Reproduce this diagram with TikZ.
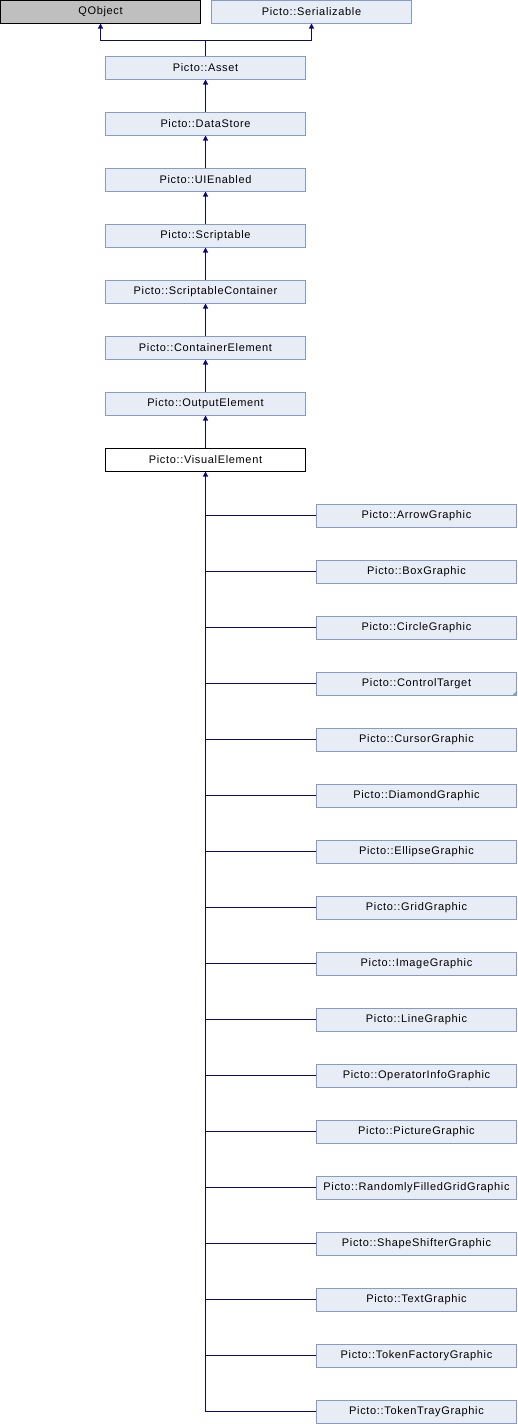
\documentclass[tikz,border=0pt]{standalone}
\usepackage{fontspec}
\setmainfont{Liberation Sans}[LetterSpace=6]
\usetikzlibrary{arrows.meta}
\definecolor{boxfill}{RGB}{232,236,245}
\definecolor{boxline}{RGB}{132,155,204}
\definecolor{edgeblue}{RGB}{10,10,128}
\definecolor{extgray}{RGB}{191,191,191}
\begin{document}
\begin{tikzpicture}[
    x=1pt, y=1pt,
    cls/.style={draw=boxline, fill=boxfill, line width=1pt, minimum width=200pt, minimum height=23pt, inner sep=0pt, font=\fontsize{11}{13}\selectfont},
    ext/.style={cls, draw=black, fill=extgray},
    cur/.style={cls, draw=black, fill=white},
    link/.style={draw=edgeblue, line width=1.1pt},
    edge/.style={link, -{Triangle[length=5pt,width=5pt]}},
  ]
    \useasboundingbox (0,0) rectangle (517,-1424);

    \node[ext] (qobj)   at (100.5,-11.5) {QObject};
    \node[cls] (serial) at (311.5,-11.5) {Picto::Serializable};

    \node[cls] (asset)     at (205.5,-67.5)  {Picto::Asset};
    \node[cls] (datastore) at (205.5,-123.5) {Picto::DataStore};
    \node[cls] (uienabled) at (205.5,-179.5) {Picto::UIEnabled};
    \node[cls] (script)    at (205.5,-235.5) {Picto::Scriptable};
    \node[cls] (scont)     at (205.5,-291.5) {Picto::ScriptableContainer};
    \node[cls] (contel)    at (205.5,-347.5) {Picto::ContainerElement};
    \node[cls] (outel)     at (205.5,-403.5) {Picto::OutputElement};
    \node[cur] (visel)     at (205.5,-459.5) {Picto::VisualElement};

    \node[cls] (arrow)   at (416.5,-515.5)  {Picto::ArrowGraphic};
    \node[cls] (box)     at (416.5,-571.5)  {Picto::BoxGraphic};
    \node[cls] (circle)  at (416.5,-627.5)  {Picto::CircleGraphic};
    \node[cls] (ctrl)    at (416.5,-683.5)  {Picto::ControlTarget};
    \node[cls] (cursor)  at (416.5,-739.5)  {Picto::CursorGraphic};
    \node[cls] (diamond) at (416.5,-795.5)  {Picto::DiamondGraphic};
    \node[cls] (ellipse) at (416.5,-851.5)  {Picto::EllipseGraphic};
    \node[cls] (grid)    at (416.5,-907.5)  {Picto::GridGraphic};
    \node[cls] (image)   at (416.5,-963.5)  {Picto::ImageGraphic};
    \node[cls] (line)    at (416.5,-1019.5) {Picto::LineGraphic};
    \node[cls] (opinfo)  at (416.5,-1075.5) {Picto::OperatorInfoGraphic};
    \node[cls] (picture) at (416.5,-1131.5) {Picto::PictureGraphic};
    \node[cls] (rfgrid)  at (416.5,-1187.5) {Picto::RandomlyFilledGridGraphic};
    \node[cls] (shape)   at (416.5,-1243.5) {Picto::ShapeShifterGraphic};
    \node[cls] (text)    at (416.5,-1299.5) {Picto::TextGraphic};
    \node[cls] (tokfac)  at (416.5,-1355.5) {Picto::TokenFactoryGraphic};
    \node[cls] (toktray) at (416.5,-1411.5) {Picto::TokenTrayGraphic};

    % corner mark: ControlTarget has more subclasses
    \fill[boxline] (ctrl.south east) -- ++(-5,0) -- ++(5,5) -- cycle;

    % multiple inheritance at the top
    \coordinate (join) at (205.5,-40.5);
    \draw[edge] (asset.north) -- (join) -| (qobj.south);
    \draw[edge] (join) -| (serial.south);

    % main chain
    \draw[edge] (datastore) -- (asset);
    \draw[edge] (uienabled) -- (datastore);
    \draw[edge] (script) -- (uienabled);
    \draw[edge] (scont) -- (script);
    \draw[edge] (contel) -- (scont);
    \draw[edge] (outel) -- (contel);
    \draw[edge] (visel) -- (outel);

    % subclasses of VisualElement, one shared trunk
    \draw[edge] (toktray.west) -| (visel.south);
    \draw[link] (arrow.west) -- (arrow.west -| visel.south);
    \draw[link] (box.west) -- (box.west -| visel.south);
    \draw[link] (circle.west) -- (circle.west -| visel.south);
    \draw[link] (ctrl.west) -- (ctrl.west -| visel.south);
    \draw[link] (cursor.west) -- (cursor.west -| visel.south);
    \draw[link] (diamond.west) -- (diamond.west -| visel.south);
    \draw[link] (ellipse.west) -- (ellipse.west -| visel.south);
    \draw[link] (grid.west) -- (grid.west -| visel.south);
    \draw[link] (image.west) -- (image.west -| visel.south);
    \draw[link] (line.west) -- (line.west -| visel.south);
    \draw[link] (opinfo.west) -- (opinfo.west -| visel.south);
    \draw[link] (picture.west) -- (picture.west -| visel.south);
    \draw[link] (rfgrid.west) -- (rfgrid.west -| visel.south);
    \draw[link] (shape.west) -- (shape.west -| visel.south);
    \draw[link] (text.west) -- (text.west -| visel.south);
    \draw[link] (tokfac.west) -- (tokfac.west -| visel.south);
\end{tikzpicture}
\end{document}
